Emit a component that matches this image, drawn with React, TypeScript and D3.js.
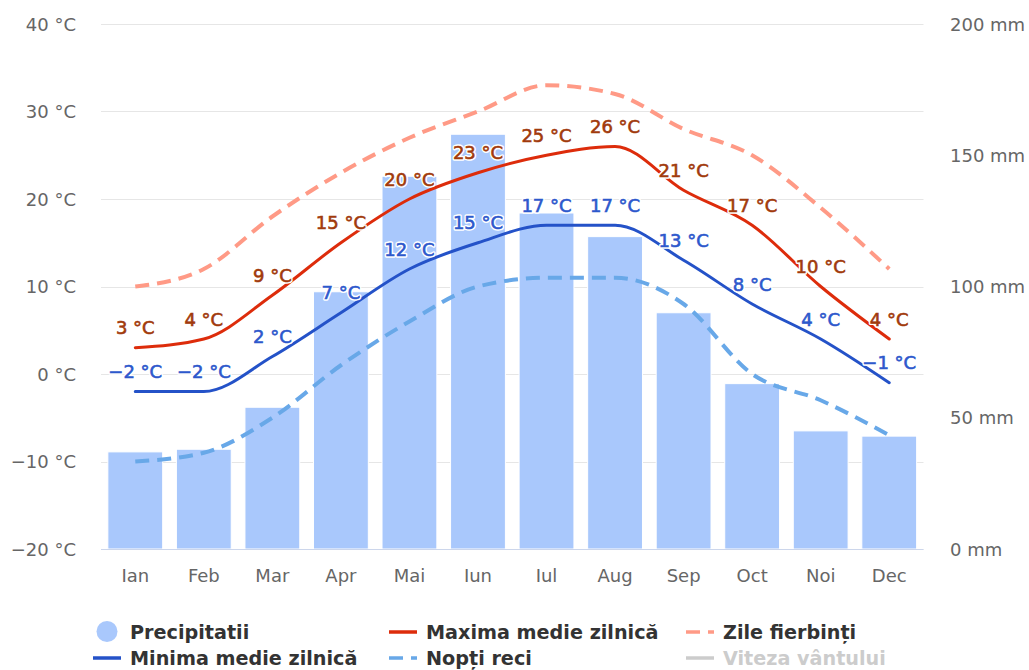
import React from "react";
import * as d3 from "d3";

const months = ["Ian", "Feb", "Mar", "Apr", "Mai", "Iun", "Iul", "Aug", "Sep", "Oct", "Noi", "Dec"];
const precipitation = [37, 38, 54, 98, 142, 158, 128, 119, 90, 63, 45, 43];
const maxDaily = [3, 4, 9, 15, 20, 23, 25, 26, 21, 17, 10, 4];
const minDaily = [-2, -2, 2, 7, 12, 15, 17, 17, 13, 8, 4, -1];
const hotDays = [10, 12, 18, 23, 27, 30, 33, 32, 28, 25, 19, 12];
const coldNights = [-10, -9, -5, 1, 6, 10, 11, 11, 8, 0, -3, -7];
const tempTicks = [-20, -10, 0, 10, 20, 30, 40];
const precTicks = [0, 50, 100, 150, 200];

const W = 1029;
const H = 670;
const left = 101;
const right = 923.5;
const top = 24;
const bottom = 549;
const FONT = "'DejaVu Sans', sans-serif";

const fmt = (v: number) => (v < 0 ? "\u2212" + Math.abs(v) : String(v));

export default function App() {
  const x = d3.scaleBand<string>().domain(months).range([left, right]).padding(0);
  const yT = d3.scaleLinear().domain([-20, 40]).range([bottom, top]);
  const yP = d3.scaleLinear().domain([0, 200]).range([bottom, top]);
  const cx = (m: string) => (x(m) as number) + x.bandwidth() / 2;
  const bw = x.bandwidth() * 0.8;

  const line = (vals: number[]) =>
    d3
      .line<number>()
      .x((_, i) => cx(months[i]))
      .y((v) => yT(v))
      .curve(d3.curveMonotoneX)(vals) as string;

  const labels = (vals: number[], color: string) =>
    vals.map((v, i) => (
      <g key={i}>
        <text
          x={cx(months[i])}
          y={yT(v) - 13.5}
          textAnchor="middle"
          fontFamily={FONT}
          fontSize={18}
          fill="#fff"
          stroke="#fff"
          strokeWidth={3.5}
          strokeLinejoin="round"
        >
          {fmt(v)} °C
        </text>
        <text
          x={cx(months[i])}
          y={yT(v) - 13.5}
          textAnchor="middle"
          fontFamily={FONT}
          fontSize={18}
          fill={color}
          stroke={color}
          strokeWidth={0.6}
        >
          {fmt(v)} °C
        </text>
      </g>
    ));

  const legendItems = [
    { label: "Precipitatii", x: 130, y: 639, type: "circle", color: "#a9c8fc", text: "#333" },
    { label: "Maxima medie zilnică", x: 426, y: 639, type: "line", color: "#dd2c0b", text: "#333" },
    { label: "Zile fierbinți", x: 723, y: 639, type: "dash", color: "#ff9a86", text: "#333" },
    { label: "Minima medie zilnică", x: 130, y: 665, type: "line", color: "#2452c8", text: "#333" },
    { label: "Nopți reci", x: 426, y: 665, type: "dash", color: "#68a8e8", text: "#333" },
    { label: "Viteza vântului", x: 723, y: 665, type: "line", color: "#cccccc", text: "#cccccc" },
  ];

  return (
    <svg width={W} height={H} style={{ position: "absolute", left: 0, top: 0, background: "#fff" }}>
      {tempTicks.map((t) => (
        <line
          key={t}
          x1={left}
          x2={right}
          y1={Math.round(yT(t)) + 0.5}
          y2={Math.round(yT(t)) + 0.5}
          stroke="#e6e6e6"
          strokeWidth={1}
        />
      ))}
      {tempTicks.map((t) => (
        <text key={t} x={76} y={yT(t) + 6.5} textAnchor="end" fontFamily={FONT} fontSize={18} fill="#666">
          {fmt(t)} °C
        </text>
      ))}
      {precTicks.map((p) => (
        <text key={p} x={950} y={yP(p) + 6.5} textAnchor="start" fontFamily={FONT} fontSize={18} fill="#666">
          {p} mm
        </text>
      ))}
      {precipitation.map((p, i) => (
        <rect
          key={i}
          x={cx(months[i]) - bw / 2}
          y={yP(p)}
          width={bw}
          height={bottom - yP(p)}
          fill="#a9c8fc"
          stroke="#fff"
          strokeWidth={1}
        />
      ))}
      <line x1={left} x2={right} y1={bottom + 0.5} y2={bottom + 0.5} stroke="#ccd6eb" strokeWidth={1} />
      {months.map((m) => (
        <text key={m} x={cx(m)} y={582} textAnchor="middle" fontFamily={FONT} fontSize={18} fill="#666">
          {m}
        </text>
      ))}
      <path d={line(coldNights)} fill="none" stroke="#68a8e8" strokeWidth={4} strokeDasharray="14,8" />
      <path d={line(hotDays)} fill="none" stroke="#ff9a86" strokeWidth={4} strokeDasharray="14,8" />
      <path d={line(minDaily)} fill="none" stroke="#2452c8" strokeWidth={3} strokeLinecap="round" />
      <path d={line(maxDaily)} fill="none" stroke="#dd2c0b" strokeWidth={3} strokeLinecap="round" />
      {labels(minDaily, "#2d58cc")}
      {labels(maxDaily, "#a13a0c")}
      {legendItems.map((it) => (
        <g key={it.label}>
          {it.type === "circle" ? (
            <circle cx={it.x - 23} cy={it.y - 7.5} r={10.5} fill={it.color} />
          ) : (
            <line
              x1={it.x - 37}
              x2={it.x - 9}
              y1={it.y - 7}
              y2={it.y - 7}
              stroke={it.color}
              strokeWidth={3.5}
              strokeDasharray={it.type === "dash" ? "14,8" : undefined}
            />
          )}
          <text x={it.x} y={it.y} fontFamily={FONT} fontWeight="bold" fontSize={19.2} fill={it.text}>
            {it.label}
          </text>
        </g>
      ))}
    </svg>
  );
}
